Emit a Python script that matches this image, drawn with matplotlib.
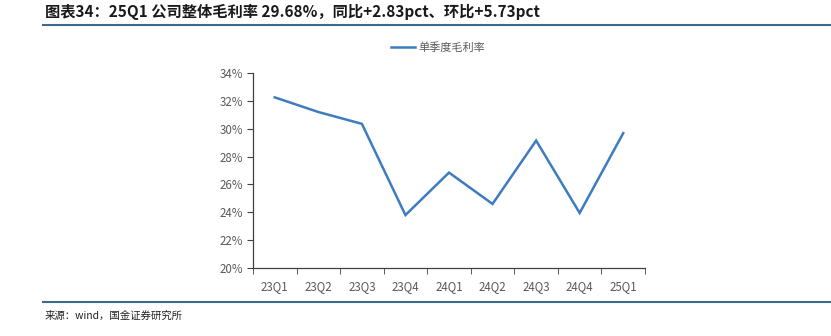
import matplotlib
matplotlib.use("Agg")
import matplotlib.pyplot as plt
from matplotlib.lines import Line2D
from matplotlib.ticker import FuncFormatter, MultipleLocator

plt.rcParams['font.family'] = ['Noto Sans CJK SC', 'DejaVu Sans']

categories = ["23Q1", "23Q2", "23Q3", "23Q4", "24Q1", "24Q2", "24Q3", "24Q4", "25Q1"]
gross_margin = [32.25, 31.2, 30.35, 23.8, 26.85, 24.6, 29.15, 23.95, 29.68]
series_name = "单季度毛利率"
title = "图表34：25Q1 公司整体毛利率 29.68%，同比+2.83pct、环比+5.73pct"
source = "来源：wind，国金证券研究所"

W, H = 831, 336
fig = plt.figure(figsize=(W / 100, H / 100), dpi=100)

ax = fig.add_axes([253 / W, 1 - 268 / H, (645 - 253) / W, (268 - 73) / H])
x = list(range(len(categories)))
line_color = "#3D7CC0"
ax.plot(x, gross_margin, color=line_color, lw=1.8, solid_joinstyle='miter')
ax.set_xlim(-0.5, len(categories) - 0.5)
ax.set_ylim(20, 34)
ax.yaxis.set_major_locator(MultipleLocator(2))
ax.yaxis.set_major_formatter(FuncFormatter(lambda v, p: f"{v:.0f}%"))
ax.set_xticks(x)
ax.set_xticklabels(categories)
ax.set_xticks([i - 0.5 for i in range(len(categories) + 1)], minor=True)
ax.tick_params(axis='x', which='major', length=0, pad=9, labelsize=8.3, labelcolor="#595959")
ax.tick_params(axis='x', which='minor', length=4, direction='out', color="#404040")
ax.tick_params(axis='y', length=4, direction='out', color="#404040", labelsize=8.3, labelcolor="#595959", pad=3)
for s in ['top', 'right']:
    ax.spines[s].set_visible(False)
for s in ['left', 'bottom']:
    ax.spines[s].set_color("#404040")
    ax.spines[s].set_linewidth(0.9)

# legend
handle = Line2D([0], [0], color=line_color, lw=1.8)
fig.legend([handle], [series_name], loc='center', bbox_to_anchor=(438 / W, 1 - 48 / H),
           frameon=False, fontsize=8, handlelength=2.2, handletextpad=0.3,
           labelcolor="#595959")

# title and rules
fig.text(45 / W, 1 - 12 / H, title, fontsize=11, fontweight='bold', color="#1a1a1a",
         va='center', ha='left')
rule_color = "#3D6A8A"
fig.add_artist(Line2D([43 / W, 1.0], [1 - 25 / H, 1 - 25 / H], color=rule_color, lw=1.5))
fig.add_artist(Line2D([43 / W, 1.0], [1 - 302 / H, 1 - 302 / H], color=rule_color, lw=1.5))
fig.text(45 / W, 1 - 316 / H, source, fontsize=7.5, color="#222222", va='center', ha='left')

fig.savefig("out.png", dpi=100)
